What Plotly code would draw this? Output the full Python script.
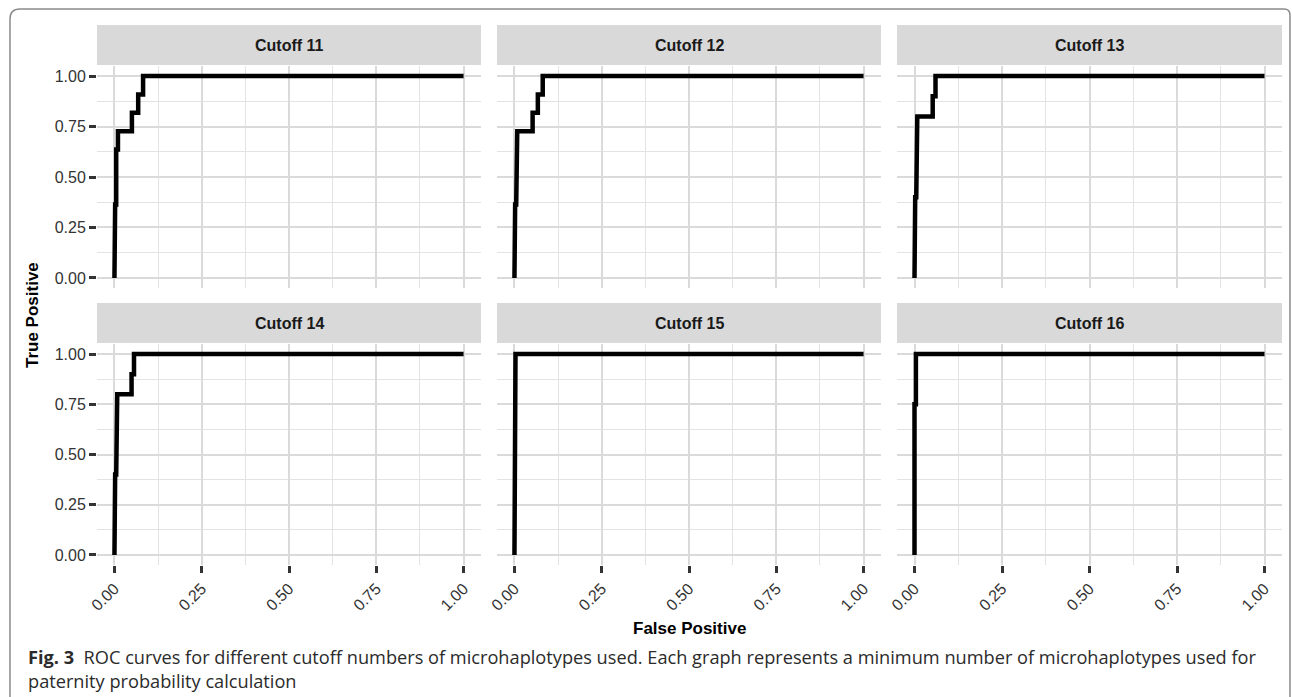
import plotly.graph_objects as go

W, H = 1292, 697

# ---------------- data ----------------
cutoffs = ["Cutoff 11", "Cutoff 12", "Cutoff 13", "Cutoff 14", "Cutoff 15", "Cutoff 16"]

fpr_11 = [0, 0, 0.002, 0.002, 0.005, 0.005, 0.010, 0.010, 0.050, 0.050, 0.068, 0.068, 0.082, 0.082, 1.0]
tpr_11 = [0, 0.091, 0.091, 0.364, 0.364, 0.636, 0.636, 0.727, 0.727, 0.818, 0.818, 0.909, 0.909, 1.0, 1.0]

fpr_12 = [0, 0, 0.002, 0.002, 0.005, 0.005, 0.008, 0.008, 0.052, 0.052, 0.067, 0.067, 0.081, 0.081, 1.0]
tpr_12 = [0, 0.091, 0.091, 0.364, 0.364, 0.636, 0.636, 0.727, 0.727, 0.818, 0.818, 0.909, 0.909, 1.0, 1.0]

fpr_13 = [0, 0, 0.002, 0.002, 0.005, 0.005, 0.008, 0.008, 0.052, 0.052, 0.060, 0.060, 1.0]
tpr_13 = [0, 0.1, 0.1, 0.4, 0.4, 0.7, 0.7, 0.8, 0.8, 0.9, 0.9, 1.0, 1.0]

fpr_14 = [0, 0, 0.002, 0.002, 0.005, 0.005, 0.008, 0.008, 0.049, 0.049, 0.056, 0.056, 1.0]
tpr_14 = [0, 0.1, 0.1, 0.4, 0.4, 0.7, 0.7, 0.8, 0.8, 0.9, 0.9, 1.0, 1.0]

fpr_15 = [0, 0, 0.003, 0.003, 1.0]
tpr_15 = [0, 0.6, 0.6, 1.0, 1.0]

fpr_16 = [0, 0, 0.004, 0.004, 1.0]
tpr_16 = [0, 0.75, 0.75, 1.0, 1.0]

fprs = [fpr_11, fpr_12, fpr_13, fpr_14, fpr_15, fpr_16]
tprs = [tpr_11, tpr_12, tpr_13, tpr_14, tpr_15, tpr_16]

tick_vals = [0, 0.25, 0.5, 0.75, 1.0]
tick_text = ["0.00", "0.25", "0.50", "0.75", "1.00"]

x_title = "False Positive"
y_title = "True Positive"
caption = ("<b>Fig. 3</b>  ROC curves for different cutoff numbers of microhaplotypes used. "
           "Each graph represents a minimum number of microhaplotypes used for<br>"
           "paternity probability calculation")

# ---------------- layout helpers ----------------
def px(x):
    return x / W

def py(y):
    return 1 - y / H

cols = [(97, 481), (497, 881), (897, 1282)]
rows = [(66, 288), (344, 565)]
strips = [(25, 65), (303, 343)]

FONT = "Liberation Sans, Arial, Helvetica, sans-serif"
GRID = "#DADADA"
MINOR = "#E3E3E3"

fig = go.Figure()
shapes = []
annotations = []

for i, name in enumerate(cutoffs):
    r, c = divmod(i, 3)
    idx = "" if i == 0 else str(i + 1)
    fig.add_trace(go.Scatter(
        x=fprs[i], y=tprs[i], mode="lines",
        line=dict(color="black", width=4.5),
        xaxis="x" + idx, yaxis="y" + idx, showlegend=False,
        hoverinfo="x+y"))

    x0, x1 = cols[c]
    y0, y1 = rows[r]
    bottom = (r == 1)
    left = (c == 0)
    fig.update_layout(**{
        "xaxis" + idx: dict(
            domain=[px(x0), px(x1)], anchor="y" + idx, range=[-0.05, 1.05],
            tickvals=tick_vals, ticktext=tick_text, showticklabels=bottom,
            ticks="outside" if bottom else "", ticklen=7, tickwidth=2.5, tickcolor="#333333",
            tickangle=-45, tickfont=dict(family=FONT, size=16, color="#333333"),
            showgrid=True, gridcolor=GRID, gridwidth=2, zeroline=False, showline=False,
            minor=dict(dtick=0.125, tick0=0, showgrid=True, gridcolor=MINOR, gridwidth=1.2, ticks=""),
            automargin=False, fixedrange=True),
        "yaxis" + idx: dict(
            domain=[py(y1), py(y0)], anchor="x" + idx, range=[-0.05, 1.05],
            tickvals=tick_vals, ticktext=tick_text, showticklabels=left,
            ticks="outside" if left else "", ticklen=7, tickwidth=2.5, tickcolor="#333333",
            tickfont=dict(family=FONT, size=16, color="#333333"),
            showgrid=True, gridcolor=GRID, gridwidth=2, zeroline=False, showline=False,
            minor=dict(dtick=0.125, tick0=0, showgrid=True, gridcolor=MINOR, gridwidth=1.2, ticks=""),
            automargin=False, fixedrange=True),
    })

    s0, s1 = strips[r]
    shapes.append(dict(type="rect", xref="paper", yref="paper",
                       x0=px(x0), x1=px(x1), y0=py(s1), y1=py(s0),
                       fillcolor="#D9D9D9", line=dict(width=0), layer="below"))
    annotations.append(dict(text="<b>%s</b>" % name, xref="paper", yref="paper",
                            x=px((x0 + x1) / 2), y=py((s0 + s1) / 2),
                            showarrow=False, xanchor="center", yanchor="middle",
                            font=dict(family=FONT, size=16, color="#1A1A1A")))

# axis titles
annotations.append(dict(text="<b>%s</b>" % x_title, xref="paper", yref="paper",
                        x=px(690), y=py(628), showarrow=False,
                        xanchor="center", yanchor="middle",
                        font=dict(family=FONT, size=17, color="black")))
annotations.append(dict(text="<b>%s</b>" % y_title, xref="paper", yref="paper",
                        x=px(32), y=py(315), showarrow=False, textangle=-90,
                        xanchor="center", yanchor="middle",
                        font=dict(family=FONT, size=17, color="black")))

# caption
annotations.append(dict(text=caption, xref="paper", yref="paper",
                        x=px(26), y=py(669), showarrow=False,
                        xanchor="left", yanchor="middle", align="left",
                        font=dict(family="Open Sans, Noto Sans, sans-serif", size=18.2, color="#2B2B2B")))

# outer rounded border (top rounded, open at bottom)
bx0, bx1, by0, by1 = 10, 1290, 9, 720
rad = 10
path = ("M {a},{b} L {a},{c} Q {a},{d} {e},{d} L {f},{d} Q {g},{d} {g},{h} L {g},{b}").format(
    a=px(bx0), b=py(by1), c=py(by0 + rad), d=py(by0), e=px(bx0 + rad),
    f=px(bx1 - 6), g=px(bx1), h=py(by0 + 6))
shapes.append(dict(type="path", xref="paper", yref="paper", path=path,
                   line=dict(color="#8A8A8A", width=1.5)))

fig.update_layout(
    width=W, height=H, margin=dict(l=0, r=0, t=0, b=0),
    paper_bgcolor="white", plot_bgcolor="white",
    shapes=shapes, annotations=annotations, showlegend=False,
)

fig.write_html("out.html")
